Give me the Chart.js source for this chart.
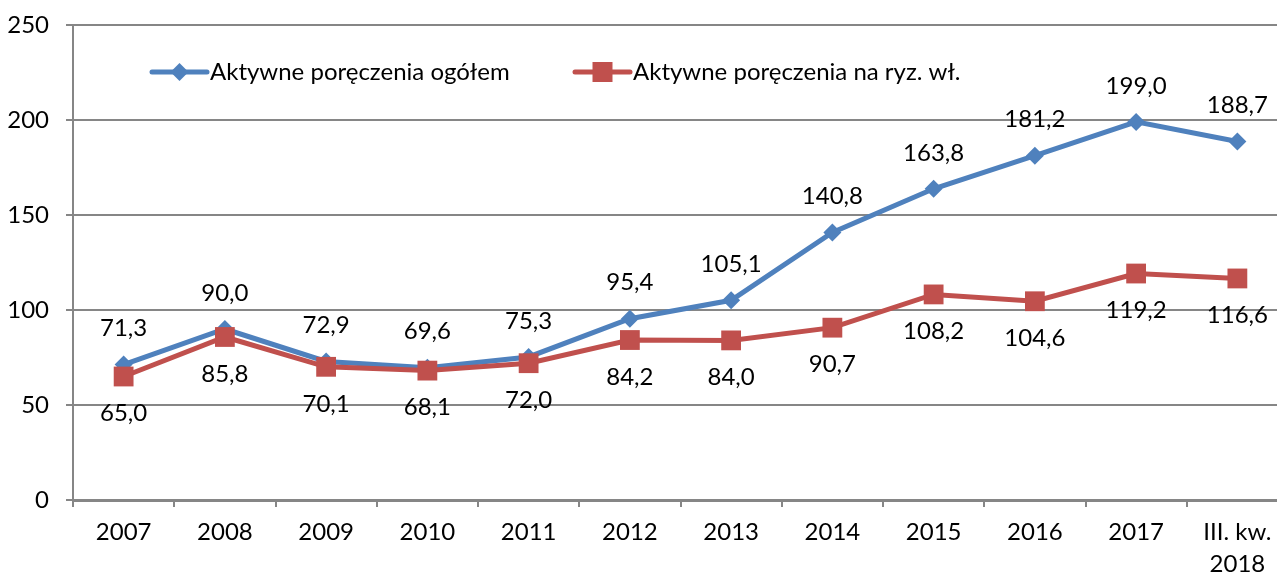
<!DOCTYPE html>
<html>
<head>
<meta charset="utf-8">
<script src="https://cdn.jsdelivr.net/npm/chart.js@4"></script>
<style>
  html, body { margin: 0; padding: 0; background: #fff; overflow: hidden; }
  #wrap { width: 1302px; height: 577px; }
</style>
</head>
<body>
<div id="wrap"><canvas id="chart"></canvas></div>
<script>
// dane z wykresu
const categories = ['2007', '2008', '2009', '2010', '2011', '2012', '2013', '2014', '2015', '2016', '2017', ['III. kw.', '2018']];
const ogolem = [71.3, 90.0, 72.9, 69.6, 75.3, 95.4, 105.1, 140.8, 163.8, 181.2, 199.0, 188.7];
const naRyzWl = [65.0, 85.8, 70.1, 68.1, 72.0, 84.2, 84.0, 90.7, 108.2, 104.6, 119.2, 116.6];
const yTicks = [0, 50, 100, 150, 200, 250];

const BLUE = '#4F81BD';
const RED = '#C0504D';
const FONT = 'Lato, "Open Sans", sans-serif';
const FSIZE = 24;

function fmt(v) {
    return v.toFixed(1).replace('.', ',');
}

// etykiety danych: niebieska seria nad punktem, czerwona pod punktem
const dataLabels = {
    id: 'dataLabels',
    afterDatasetsDraw(chart) {
        const ctx = chart.ctx;
        ctx.save();
        ctx.font = FSIZE + 'px ' + FONT;
        ctx.fillStyle = '#000';
        ctx.textAlign = 'center';
        ctx.textBaseline = 'middle';
        chart.data.datasets.forEach((ds, i) => {
            const meta = chart.getDatasetMeta(i);
            meta.data.forEach((pt, j) => {
                const dy = ds.labelPos === 'above' ? -36 : 37;
                ctx.fillText(fmt(ds.data[j]), pt.x, pt.y + dy);
            });
        });
        ctx.restore();
    }
};

// legenda w obszarze wykresu (linia + znacznik)
const insideLegend = {
    id: 'insideLegend',
    afterDraw(chart) {
        const ctx = chart.ctx;
        const area = chart.chartArea;
        const y = area.top + 47;
        const items = [
            { x: area.left + 79, ds: chart.data.datasets[0] },
            { x: area.left + 502, ds: chart.data.datasets[1] }
        ];
        ctx.save();
        items.forEach(it => {
            ctx.strokeStyle = it.ds.borderColor;
            ctx.lineWidth = 5;
            ctx.lineCap = 'round';
            ctx.beginPath();
            ctx.moveTo(it.x, y);
            ctx.lineTo(it.x + 55, y);
            ctx.stroke();
            ctx.fillStyle = it.ds.borderColor;
            ctx.beginPath();
            if (it.ds.pointStyle === 'rectRot') {
                const r = it.ds.pointRadius;
                ctx.moveTo(it.x + 27.5, y - r);
                ctx.lineTo(it.x + 27.5 + r, y);
                ctx.lineTo(it.x + 27.5, y + r);
                ctx.lineTo(it.x + 27.5 - r, y);
            } else {
                ctx.rect(it.x + 17.5, y - 10, 20, 20);
            }
            ctx.closePath();
            ctx.fill();
            ctx.fillStyle = '#000';
            ctx.font = FSIZE + 'px ' + FONT;
            ctx.textAlign = 'left';
            ctx.textBaseline = 'middle';
            ctx.fillText(it.ds.label, it.x + 58, y);
        });
        ctx.restore();
    }
};

new Chart(document.getElementById('chart'), {
    type: 'line',
    data: {
        labels: categories,
        datasets: [{
            label: 'Aktywne poręczenia ogółem',
            data: ogolem,
            borderColor: BLUE,
            backgroundColor: BLUE,
            borderWidth: 5,
            pointStyle: 'rectRot',
            pointRadius: 9,
            pointBorderWidth: 0,
            tension: 0,
            order: 1,
            labelPos: 'above'
        }, {
            label: 'Aktywne poręczenia na ryz. wł.',
            data: naRyzWl,
            borderColor: RED,
            backgroundColor: RED,
            borderWidth: 5,
            pointStyle: 'rect',
            pointRadius: 14,
            pointBorderWidth: 0,
            tension: 0,
            order: 0,
            labelPos: 'below'
        }]
    },
    options: {
        responsive: true,
        maintainAspectRatio: false,
        animation: false,
        layout: { padding: { top: 25, right: 0, left: 0, bottom: 0 } },
        plugins: {
            legend: { display: false },
            tooltip: { enabled: false }
        },
        scales: {
            x: {
                offset: true,
                grid: {
                    offset: true,
                    drawOnChartArea: false,
                    color: '#868686',
                    lineWidth: 2,
                    tickLength: 7
                },
                border: { color: '#868686', width: 3 },
                ticks: {
                    color: '#000',
                    font: { family: FONT, size: FSIZE, lineHeight: 1.35 },
                    padding: 9,
                    maxRotation: 0,
                    autoSkip: false
                },
                afterFit(axis) { axis.height = 77; }
            },
            y: {
                min: 0,
                max: 250,
                afterBuildTicks(axis) { axis.ticks = yTicks.map(v => ({ value: v })); },
                grid: {
                    color: '#868686',
                    lineWidth: 2,
                    tickLength: 7
                },
                border: { color: '#868686', width: 2 },
                ticks: {
                    color: '#000',
                    font: { family: FONT, size: FSIZE },
                    padding: 17
                },
                afterFit(axis) {
                    axis.width = 73;
                    axis.paddingTop = 0;
                    axis.paddingBottom = 0;
                }
            }
        }
    },
    plugins: [dataLabels, insideLegend]
});
</script>
</body>
</html>
